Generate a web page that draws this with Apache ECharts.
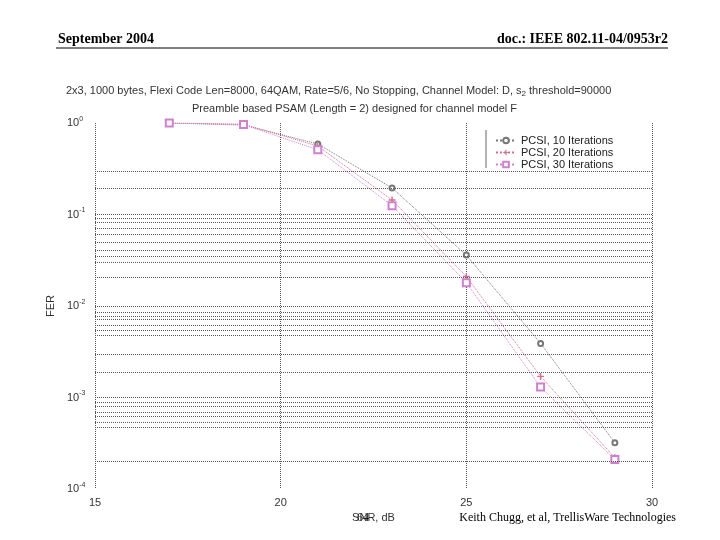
<!DOCTYPE html>
<html><head><meta charset="utf-8">
<script src="https://cdn.jsdelivr.net/npm/echarts@6/dist/echarts.min.js"></script>
<style>
body{margin:0;background:#fff}
#c{width:720px;height:540px}
</style></head>
<body><div id="c"></div>
<script>
// 数据
let snr = [17, 19, 21, 23, 25, 27, 29];
let fer10 = [1.0, 0.95, 0.59, 0.195, 0.036, 0.0039, 0.00032];
let fer20 = [1.0, 0.97, 0.56, 0.144, 0.021, 0.0017, 0.00022];
let fer30 = [1.0, 0.96, 0.51, 0.125, 0.018, 0.0013, 0.00021];
let seriesNames = ['PCSI, 10 Iterations', 'PCSI, 20 Iterations', 'PCSI, 30 Iterations'];
let xTicks = [15, 20, 25, 30];
// 横向网格线位置 (log10 单位, 按原图读取)
let gridLog = [-0.525, -0.71, -1, -1.04, -1.09, -1.15, -1.22, -1.30, -1.39, -1.46, -1.52, -1.69,
    -2, -2.07, -2.11, -2.15, -2.21, -2.26, -2.32, -2.53, -2.72,
    -3, -3.05, -3.10, -3.16, -3.21, -3.27, -3.32, -3.70];

let chart = echarts.init(document.getElementById('c'));
let f = 'Liberation Sans, Arial';
let serif = 'Liberation Serif, Times New Roman';

function pts(arr) { return snr.map((x, i) => [x, arr[i]]); }

chart.setOption({
    animation: false,
    graphic: [
        { type: 'text', left: 58, top: 32, style: { text: 'September 2004', font: 'bold 14px ' + serif, fill: '#000' } },
        { type: 'text', right: 52, top: 32, style: { text: 'doc.: IEEE 802.11-04/0953r2', font: 'bold 14px ' + serif, fill: '#000' } },
        { type: 'line', shape: { x1: 56, y1: 48, x2: 668, y2: 48 }, style: { stroke: '#000', lineWidth: 1 } },
        {
            type: 'text', left: 66, top: 85, style: {
                text: '2x3, 1000 bytes, Flexi Code Len=8000, 64QAM, Rate=5/6, No Stopping, Channel Model: D, s{b|2} threshold=90000',
                font: '11px ' + f, fill: '#333',
                rich: { b: { fontSize: 8, fontFamily: f, fill: '#333', verticalAlign: 'bottom', padding: [6, 0, 0, 0] } }
            }
        },
        { type: 'text', left: 192, top: 103, style: { text: 'Preamble based PSAM (Length = 2) designed for channel model F', font: '11px ' + f, fill: '#333' } },
        { type: 'text', left: 357, top: 512, style: { text: '64', font: '12px ' + serif, fill: '#000' } },
        { type: 'text', right: 44, top: 512, style: { text: 'Keith Chugg, et al, TrellisWare Technologies', font: '12px ' + serif, fill: '#000' } },
        { type: 'rect', left: 486, top: 129, shape: { width: 166, height: 40 }, style: { fill: '#fff' }, z: 50 },
        { type: 'line', shape: { x1: 486, y1: 130, x2: 486, y2: 168 }, style: { stroke: '#666', lineWidth: 1 }, z: 51 }
    ],
    legend: {
        orient: 'vertical', left: 490, top: 130, itemGap: 1, itemWidth: 20, itemHeight: 7, z: 60,
        textStyle: { fontFamily: f, fontSize: 11, color: '#222' },
        data: seriesNames
    },
    grid: { left: 95, right: 68, top: 123, bottom: 51 },
    xAxis: {
        type: 'value', min: 15, max: 30, interval: 5,
        name: 'SNR, dB', nameLocation: 'middle', nameGap: 18,
        nameTextStyle: { fontFamily: f, fontSize: 11, color: '#333' },
        axisLine: { show: false }, axisTick: { show: false },
        axisLabel: { fontFamily: f, fontSize: 11, color: '#333', customValues: xTicks },
        splitLine: { show: true, lineStyle: { type: 'dotted', color: '#555' } }
    },
    yAxis: [{
        type: 'log', logBase: 10, min: 1e-4, max: 1,
        name: 'FER', nameLocation: 'middle', nameGap: 36, nameRotate: 90,
        nameTextStyle: { fontFamily: f, fontSize: 11, color: '#333' },
        axisLine: { show: false }, axisTick: { show: false },
        axisLabel: {
            fontFamily: f, fontSize: 11, color: '#333', margin: 28, align: 'left',
            formatter: v => '10{s|' + Math.round(Math.log10(v)) + '}',
            rich: { s: { fontSize: 7, verticalAlign: 'top', padding: [0, 0, 8, 0] } }
        },
        splitLine: { show: false }
    }, {
        type: 'value', min: -4, max: 0, show: false
    }],
    series: [
        {
            type: 'line', yAxisIndex: 1, data: [], silent: true,
            markLine: {
                silent: true, symbol: 'none', label: { show: false },
                lineStyle: { color: '#555', type: 'dotted', width: 1 },
                data: gridLog.map(v => ({ yAxis: v }))
            }
        },
        {
            name: seriesNames[0], type: 'line', data: pts(fer10),
            symbol: 'emptyCircle', symbolSize: 5,
            lineStyle: { color: '#777', width: 1, type: 'dotted' }, itemStyle: { color: '#777' }
        },
        {
            name: seriesNames[1], type: 'line', data: pts(fer20),
            symbol: 'path://M4,0H6V4H10V6H6V10H4V6H0V4H4Z', symbolSize: 7,
            lineStyle: { color: '#d07090', width: 1, type: 'dotted' }, itemStyle: { color: '#d07090' }
        },
        {
            name: seriesNames[2], type: 'line', data: pts(fer30),
            symbol: 'emptyRect', symbolSize: 7,
            lineStyle: { color: '#d080d0', width: 1, type: 'dotted' }, itemStyle: { color: '#d080d0' }
        }
    ]
});
</script>
</body></html>
